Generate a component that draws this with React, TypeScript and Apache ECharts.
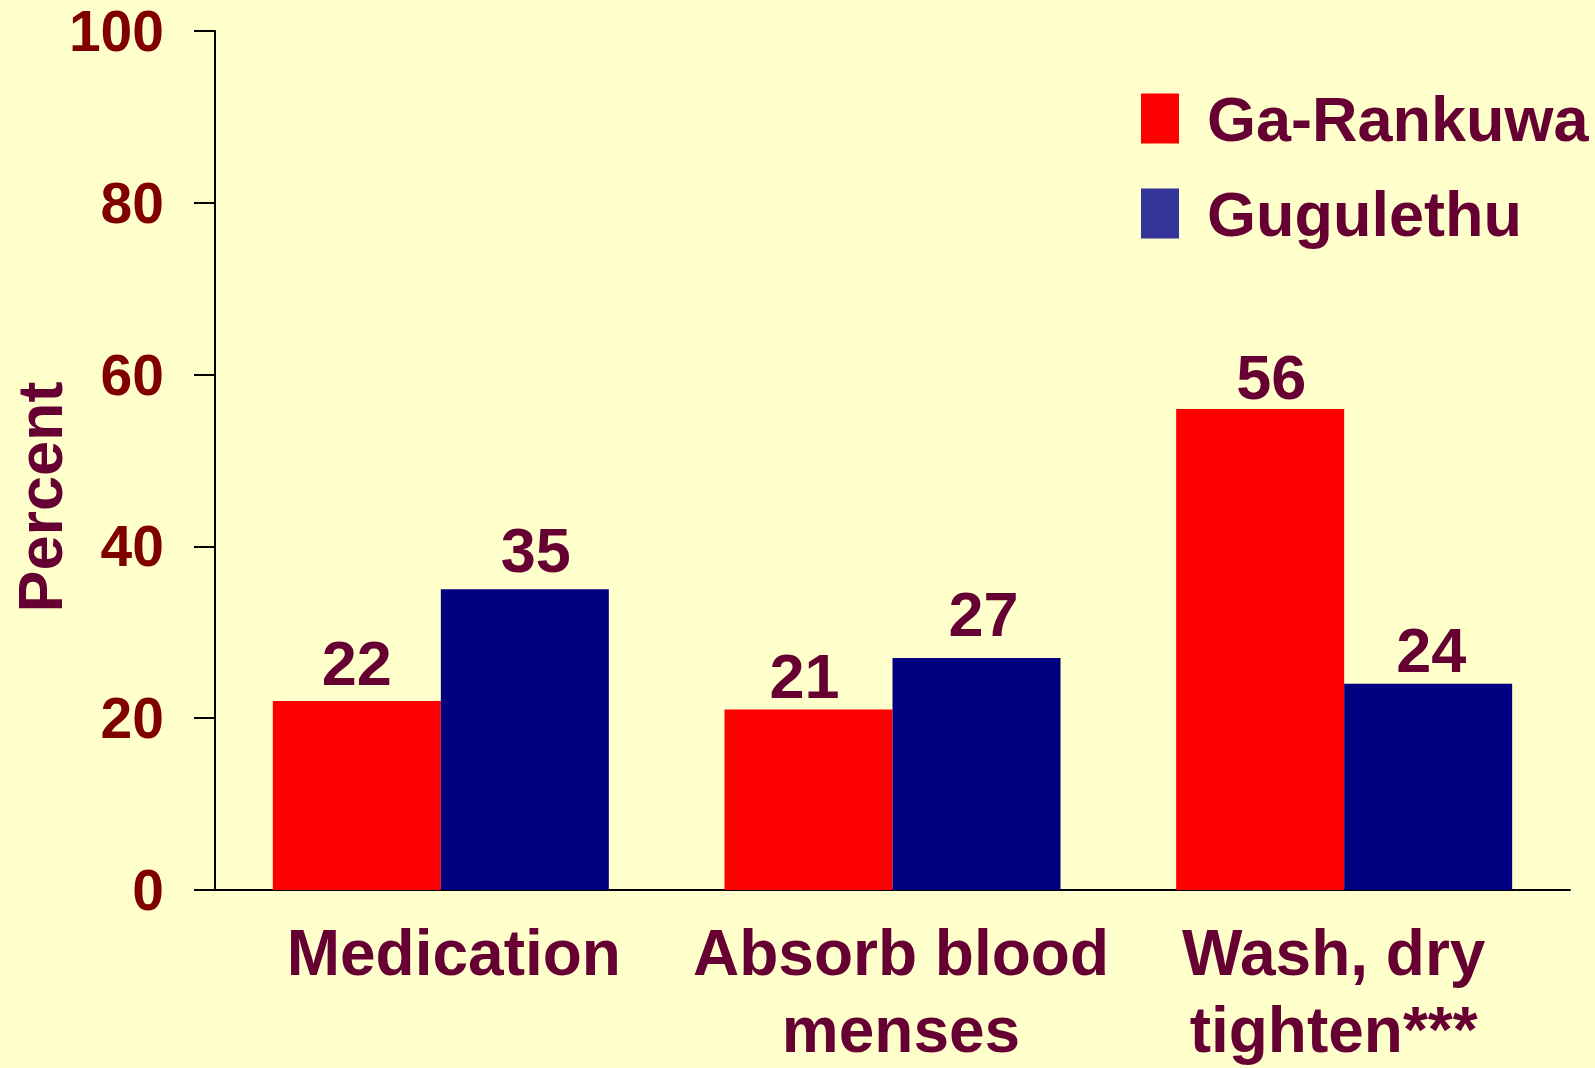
import React, { useEffect, useRef } from "react";
import * as echarts from "echarts";

const categories = ["Medication", "Absorb blood\nmenses", "Wash, dry\ntighten***"];
const gaRankuwa = [22, 21, 56];
const gugulethu = [35, 27, 24];
const seriesNames = ["Ga-Rankuwa", "Gugulethu"];
const yTicks = { min: 0, max: 100, interval: 20 };

// hand-placed label nudges seen in the original slide
const categoryLabelPadding = [
  [0, 0, 0, 26],
  [0, 0, 0, 17],
  [0, 21, 0, 0],
];
const redLabelNudge = [
  [0, -2],
  [-4, 3],
  [11, 5],
];
const blueLabelNudge = [
  [11, -3],
  [7, -8],
  [3, 3],
];

const FONT = "'Liberation Sans', Arial, Helvetica, sans-serif";
const TEXT = "#660033";

export default function App() {
  const ref = useRef<HTMLDivElement>(null);
  useEffect(() => {
    const chart = echarts.init(ref.current!, undefined, { renderer: "svg" });
    const label = {
      show: true,
      position: "top",
      distance: 5,
      color: TEXT,
      fontSize: 63,
      fontWeight: "bold",
      fontFamily: FONT,
    };
    const withNudge = (vals: number[], nudge: number[][]) =>
      vals.map((v, i) => ({ value: v, label: { offset: nudge[i] } }));
    chart.setOption({
      animation: false,
      backgroundColor: "#FFFFCC",
      grid: { left: 215, right: 25, top: 31, bottom: 175, containLabel: false },
      legend: {
        orient: "vertical",
        left: 1136,
        top: 82,
        itemWidth: 38,
        itemHeight: 50,
        itemGap: 32,
        icon: "rect",
        selectedMode: false,
        data: [
          { name: seriesNames[0], itemStyle: { color: "#FF0000" } },
          { name: seriesNames[1], itemStyle: { color: "#333399" } },
        ],
        textStyle: {
          color: TEXT,
          fontSize: 63,
          fontWeight: "bold",
          fontFamily: FONT,
          padding: [0, 0, 0, 23],
        },
      },
      graphic: [
        {
          type: "text",
          x: 40,
          y: 497,
          rotation: Math.PI / 2,
          style: {
            text: "Percent",
            fill: TEXT,
            fontSize: 63,
            fontWeight: "bold",
            fontFamily: FONT,
            textAlign: "center",
            textVerticalAlign: "middle",
          },
        },
      ],
      xAxis: {
        type: "category",
        data: categories.map((c, i) => ({
          value: c,
          textStyle: { padding: categoryLabelPadding[i] },
        })),
        axisLine: { show: true, lineStyle: { color: "#000000", width: 2 } },
        axisTick: { show: false },
        axisLabel: {
          interval: 0,
          margin: 24,
          color: TEXT,
          fontSize: 64,
          lineHeight: 77,
          fontWeight: "bold",
          fontFamily: FONT,
        },
      },
      yAxis: {
        type: "value",
        min: yTicks.min,
        max: yTicks.max,
        interval: yTicks.interval,
        splitLine: { show: false },
        axisLine: { show: true, lineStyle: { color: "#000000", width: 2 } },
        axisTick: { show: true, length: 21, lineStyle: { color: "#000000", width: 2 } },
        axisLabel: {
          margin: 51,
          color: "#800000",
          fontSize: 57,
          fontWeight: "bold",
          fontFamily: FONT,
        },
      },
      series: [
        {
          name: seriesNames[0],
          type: "bar",
          data: withNudge(gaRankuwa, redLabelNudge),
          barWidth: 168,
          barGap: "0%",
          itemStyle: { color: "#FF0000" },
          label,
        },
        {
          name: seriesNames[1],
          type: "bar",
          data: withNudge(gugulethu, blueLabelNudge),
          barWidth: 168,
          barGap: "0%",
          itemStyle: { color: "#000080" },
          label,
        },
      ],
    });
    return () => chart.dispose();
  }, []);
  return (
    <div
      ref={ref}
      style={{ position: "absolute", left: 0, top: 0, width: 1595, height: 1068 }}
    />
  );
}
